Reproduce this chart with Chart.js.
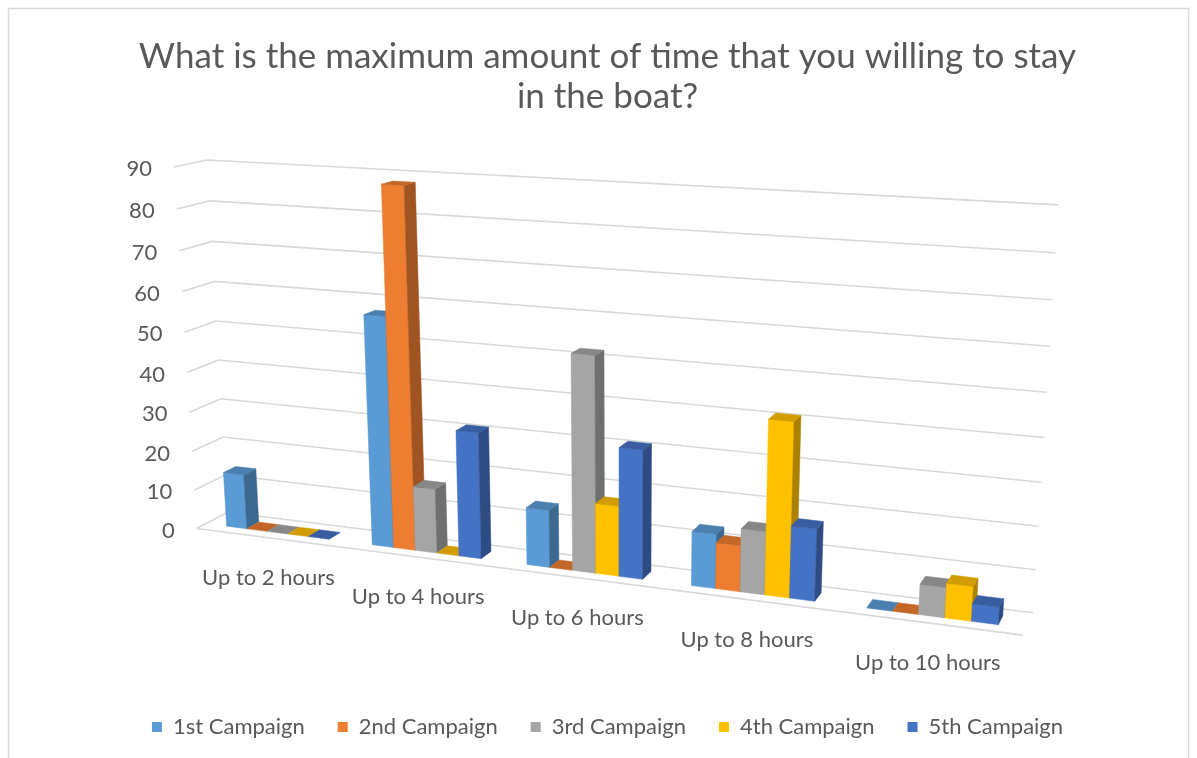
<!DOCTYPE html>
<html>
<head>
<meta charset="utf-8">
<title>Maximum time in the boat</title>
<script src="https://cdn.jsdelivr.net/npm/chart.js@4.4.1/dist/chart.umd.min.js"></script>
<style>
  html, body { margin: 0; padding: 0; background: #fff; }
  #wrap { position: relative; width: 1197px; height: 758px; }
</style>
</head>
<body>
<div id="wrap"><canvas id="boatChart"></canvas></div>
<script>
'use strict';

const categories = ['Up to 2 hours', 'Up to 4 hours', 'Up to 6 hours', 'Up to 8 hours', 'Up to 10 hours'];
const seriesNames = ['1st Campaign', '2nd Campaign', '3rd Campaign', '4th Campaign', '5th Campaign'];
const campaign1 = [14, 57, 14, 13, 0];
const campaign2 = [0, 88, 0, 11, 0];
const campaign3 = [0, 16, 52, 15, 7];
const campaign4 = [0, 0, 17, 41, 8];
const campaign5 = [0, 31, 31, 17, 4];
const valueTicks = [0, 10, 20, 30, 40, 50, 60, 70, 80, 90];

const seriesData = [campaign1, campaign2, campaign3, campaign4, campaign5];
const seriesColors = ['#5B9BD5', '#ED7D31', '#A5A5A5', '#FFC000', '#4472C4'];
const textColor = '#595959';
const gridColor = '#D9D9D9';
const fontFamily = 'Lato, "Open Sans", sans-serif';

// corners of the 3D box: [X, Y, Z, screenX, screenY]
// X runs along the categories, Y is value / max, Z goes from the back wall to the front of the floor
const boxAnchors = [
    [0, 1, 0, 207, 159], [0, 5 / 9, 0, 217, 322], [0, 0, 0, 227, 512],
    [1, 1, 0, 1058, 205], [1, 5 / 9, 0, 1047, 392], [1, 0, 0, 1033, 613],
    [0, 1, 1, 174, 167], [0, 5 / 9, 1, 184, 333], [0, 0, 1, 197, 528],
    [1, 0, 1, 1023, 635]
];
const barDepth = [0.3, 0.7]; // back and front of every column

// least squares fit of a 3x4 projection matrix (p34 = 1)
function fitProjection(anchors) {
    const n = 11;
    const m = [];
    for (let i = 0; i < n; i++) m.push(new Array(n + 1).fill(0));
    const addRow = (a, b) => {
        for (let i = 0; i < n; i++) {
            for (let j = 0; j < n; j++) m[i][j] += a[i] * a[j];
            m[i][n] += a[i] * b;
        }
    };
    anchors.forEach(([X, Y, Z, sx, sy]) => {
        const u = sx / 1000, v = sy / 1000;
        addRow([X, Y, Z, 1, 0, 0, 0, 0, -u * X, -u * Y, -u * Z], u);
        addRow([0, 0, 0, 0, X, Y, Z, 1, -v * X, -v * Y, -v * Z], v);
    });
    for (let c = 0; c < n; c++) {
        let piv = c;
        for (let r = c + 1; r < n; r++) {
            if (Math.abs(m[r][c]) > Math.abs(m[piv][c])) piv = r;
        }
        [m[c], m[piv]] = [m[piv], m[c]];
        for (let r = 0; r < n; r++) {
            if (r === c) continue;
            const f = m[r][c] / m[c][c];
            for (let k = c; k <= n; k++) m[r][k] -= f * m[c][k];
        }
    }
    const p = m.map((row, i) => row[n] / row[i]);
    return (X, Y, Z) => {
        const w = p[8] * X + p[9] * Y + p[10] * Z + 1;
        return {
            x: 1000 * (p[0] * X + p[1] * Y + p[2] * Z + p[3]) / w,
            y: 1000 * (p[4] * X + p[5] * Y + p[6] * Z + p[7]) / w
        };
    };
}
const project = fitProjection(boxAnchors);

function shade(hex, f) {
    const n = parseInt(hex.slice(1), 16);
    const r = Math.round(((n >> 16) & 255) * f);
    const g = Math.round(((n >> 8) & 255) * f);
    const b = Math.round((n & 255) * f);
    return 'rgb(' + r + ',' + g + ',' + b + ')';
}

function fillFace(ctx, pts, color) {
    ctx.beginPath();
    pts.forEach((q, i) => {
        const s = project(q[0], q[1], q[2]);
        if (i === 0) ctx.moveTo(s.x, s.y); else ctx.lineTo(s.x, s.y);
    });
    ctx.closePath();
    ctx.fillStyle = color;
    ctx.fill();
    ctx.strokeStyle = color;
    ctx.lineWidth = 0.5;
    ctx.stroke();
}

function line3d(ctx, a, b) {
    const s = project(a[0], a[1], a[2]);
    const e = project(b[0], b[1], b[2]);
    ctx.beginPath();
    ctx.moveTo(s.x, s.y);
    ctx.lineTo(e.x, e.y);
    ctx.stroke();
}

// draws walls, gridlines, labels and 3D columns from the chart's own scales
const perspectiveBars = {
    id: 'perspectiveBars',
    beforeDraw(chart) {
        const ctx = chart.ctx;
        ctx.save();
        ctx.fillStyle = '#fff';
        ctx.fillRect(0, 0, chart.width, chart.height);
        ctx.strokeStyle = gridColor;
        ctx.lineWidth = 1.5;
        ctx.strokeRect(8.5, 8.5, chart.width - 17, chart.height + 20);
        ctx.restore();
    },
    beforeDatasetsDraw() {
        return false;
    },
    afterDraw(chart) {
        const ctx = chart.ctx;
        const area = chart.chartArea;
        const yScale = chart.scales.y;
        const xScale = chart.scales.x;
        const normY = v => (area.bottom - yScale.getPixelForValue(v)) / area.height;
        const normX = px => (px - area.left) / area.width;

        ctx.save();
        // gridlines on back wall and side wall
        ctx.strokeStyle = gridColor;
        ctx.lineWidth = 1.6;
        valueTicks.forEach(t => {
            const y = normY(t);
            line3d(ctx, [0, y, 1], [0, y, 0]);
            line3d(ctx, [0, y, 0], [1, y, 0]);
        });
        line3d(ctx, [0, 0, 1], [1, 0, 1]);

        // value labels
        ctx.fillStyle = textColor;
        ctx.font = '22px ' + fontFamily;
        ctx.textAlign = 'right';
        ctx.textBaseline = 'middle';
        valueTicks.forEach(t => {
            const s = project(0, normY(t), 1);
            ctx.fillText(String(t), s.x - 22, s.y + 2);
        });

        // category labels
        ctx.textAlign = 'center';
        categories.forEach((label, j) => {
            const s = project(normX(xScale.getPixelForValue(j)), 0, 1);
            ctx.fillText(label, s.x, s.y + 40);
        });

        // columns, left to right so nearer faces cover farther ones
        const [zb, zf] = barDepth;
        categories.forEach((c, j) => {
            chart.data.datasets.forEach((ds, i) => {
                const bar = chart.getDatasetMeta(i).data[j];
                const x0 = normX(bar.x - bar.width / 2);
                const x1 = normX(bar.x + bar.width / 2);
                const y = (area.bottom - bar.y) / area.height;
                const col = seriesColors[i];
                if (y > 0.0005) {
                    fillFace(ctx, [[x0, 0, zf], [x1, 0, zf], [x1, y, zf], [x0, y, zf]], col);
                    fillFace(ctx, [[x1, 0, zf], [x1, 0, zb], [x1, y, zb], [x1, y, zf]], shade(col, 0.67));
                }
                fillFace(ctx, [[x0, y, zf], [x1, y, zf], [x1, y, zb], [x0, y, zb]], shade(col, 0.82));
            });
        });
        ctx.restore();
    }
};

const ctxBoat = document.getElementById('boatChart');
new Chart(ctxBoat, {
    type: 'bar',
    data: {
        labels: categories,
        datasets: seriesNames.map((name, i) => ({
            label: name,
            data: seriesData[i],
            backgroundColor: seriesColors[i],
            borderWidth: 0
        }))
    },
    options: {
        responsive: true,
        maintainAspectRatio: false,
        animation: false,
        layout: { padding: { top: 0, bottom: 10, left: 18, right: 0 } },
        datasets: { bar: { categoryPercentage: 0.71, barPercentage: 1 } },
        scales: {
            x: { display: false },
            y: { display: false, min: valueTicks[0], max: valueTicks[valueTicks.length - 1] }
        },
        plugins: {
            title: {
                display: true,
                text: ['What is the maximum amount of time that you willing to stay', 'in the boat?'],
                color: textColor,
                font: { family: fontFamily, size: 35, weight: 'normal', lineHeight: 1.143 },
                padding: { top: 37, bottom: 20 }
            },
            legend: {
                position: 'bottom',
                labels: {
                    boxWidth: 10,
                    boxHeight: 10,
                    padding: 33,
                    color: textColor,
                    font: { family: fontFamily, size: 22 }
                }
            },
            tooltip: { enabled: false }
        }
    },
    plugins: [perspectiveBars]
});
</script>
</body>
</html>
